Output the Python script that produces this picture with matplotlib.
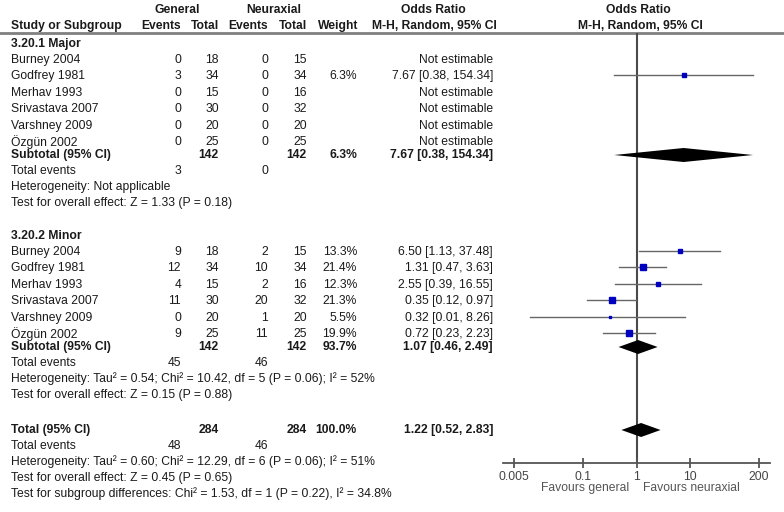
import matplotlib
matplotlib.use("Agg")
import matplotlib.pyplot as plt
import numpy as np

plt.rcParams['font.family'] = ['Liberation Sans', 'DejaVu Sans']

# ---------------- data ----------------
studies = ["Burney 2004", "Godfrey 1981", "Merhav 1993", "Srivastava 2007",
           "Varshney 2009", "Özgün 2002"]

major_gen_events = [0, 3, 0, 0, 0, 0]
major_gen_total = [18, 34, 15, 30, 20, 25]
major_neu_events = [0, 0, 0, 0, 0, 0]
major_neu_total = [15, 34, 16, 32, 20, 25]
major_weight = [None, 6.3, None, None, None, None]
major_or = [None, 7.67, None, None, None, None]
major_lo = [None, 0.38, None, None, None, None]
major_hi = [None, 154.34, None, None, None, None]

minor_gen_events = [9, 12, 4, 11, 0, 9]
minor_gen_total = [18, 34, 15, 30, 20, 25]
minor_neu_events = [2, 10, 2, 20, 1, 11]
minor_neu_total = [15, 34, 16, 32, 20, 25]
minor_weight = [13.3, 21.4, 12.3, 21.3, 5.5, 19.9]
minor_or = [6.50, 1.31, 2.55, 0.35, 0.32, 0.72]
minor_lo = [1.13, 0.47, 0.39, 0.12, 0.01, 0.23]
minor_hi = [37.48, 3.63, 16.55, 0.97, 8.26, 2.23]

# subtotal / total: [gen total, neu total, weight, OR, lo, hi, gen events, neu events]
major_sub = [142, 142, 6.3, 7.67, 0.38, 154.34, 3, 0]
minor_sub = [142, 142, 93.7, 1.07, 0.46, 2.49, 45, 46]
overall = [284, 284, 100.0, 1.22, 0.52, 2.83, 48, 46]

major_notes = ["Heterogeneity: Not applicable",
               "Test for overall effect: Z = 1.33 (P = 0.18)"]
minor_notes = ["Heterogeneity: Tau² = 0.54; Chi² = 10.42, df = 5 (P = 0.06); I² = 52%",
               "Test for overall effect: Z = 0.15 (P = 0.88)"]
overall_notes = ["Heterogeneity: Tau² = 0.60; Chi² = 12.29, df = 6 (P = 0.06); I² = 51%",
                 "Test for overall effect: Z = 0.45 (P = 0.65)",
                 "Test for subgroup differences: Chi² = 1.53, df = 1 (P = 0.22), I² = 34.8%"]

xticks = [0.005, 0.1, 1, 10, 200]
xtick_labels = ["0.005", "0.1", "1", "10", "200"]

# ---------------- layout ----------------
W, H = 784, 512
fig = plt.figure(figsize=(W / 100, H / 100), dpi=100)
ax = fig.add_axes([0, 0, 1, 1])
ax.set_xlim(0, W)
ax.set_ylim(H, 0)
ax.axis('off')

FS = 8.7
TC = '#1a1a1a'
X_NAME = 11
X_GE, X_GT, X_NE, X_NT, X_W, X_OR = 181, 219, 268, 307, 357, 493

# plot panel geometry (pixels)
PX_LO, PX_HI = 514, 759          # pixel position of 0.005 and 200
AX_L, AX_R = 503, 770
Y_RULE, Y_AXIS = 33, 463
dec = (PX_HI - PX_LO) / (np.log10(200) - np.log10(0.005))
def px2val(p):
    return 10 ** (np.log10(0.005) + (p - PX_LO) / dec)

fx = fig.add_axes([AX_L / W, (H - Y_AXIS) / H, (AX_R - AX_L) / W, (Y_AXIS - Y_RULE) / H])
fx.set_xscale('log')
fx.set_xlim(px2val(AX_L), px2val(AX_R))
fx.set_ylim(Y_AXIS, Y_RULE)
fx.patch.set_alpha(0)
for s in ['top', 'left', 'right']:
    fx.spines[s].set_visible(False)
fx.spines['bottom'].set_color('#555555')
fx.spines['bottom'].set_linewidth(1.3)
fx.set_yticks([])
fx.set_xticks(xticks)
fx.set_xticklabels(xtick_labels)
fx.xaxis.set_minor_locator(matplotlib.ticker.NullLocator())
fx.tick_params(axis='x', direction='inout', length=7, width=1.3, color='#555555',
               labelsize=FS, labelcolor='#444444', pad=2)
fx.axvline(1, color='#4a4a4a', lw=1.5, zorder=1)


def txt(x, y, s, ha='left', bold=False, color=TC, size=FS):
    ax.text(x, y, s, ha=ha, va='center', fontsize=size,
            fontweight='bold' if bold else 'normal', color=color)

def fmt_or(o, l, h):
    return f"{o:.2f} [{l:.2f}, {h:.2f}]"

def diamond(y, o, l, h, half=7):
    fx.fill([l, o, h, o], [y, y - half, y, y + half], color='black', zorder=3,
            clip_on=False, lw=0)

# headers
txt(177, 10, "General", ha='center', bold=True)
txt(274, 10, "Neuraxial", ha='center', bold=True)
txt(433, 10, "Odds Ratio", ha='center', bold=True)
txt(638, 10, "Odds Ratio", ha='center', bold=True)
txt(X_NAME, 26, "Study or Subgroup", bold=True)
txt(X_GE, 26, "Events", ha='right', bold=True)
txt(X_GT, 26, "Total", ha='right', bold=True)
txt(X_NE, 26, "Events", ha='right', bold=True)
txt(X_NT, 26, "Total", ha='right', bold=True)
txt(X_W + 1, 26, "Weight", ha='right', bold=True)
txt(X_OR + 4, 26, "M-H, Random, 95% CI", ha='right', bold=True)
txt(640, 26, "M-H, Random, 95% CI", ha='center', bold=True)
ax.plot([0, W], [Y_RULE, Y_RULE], color='#808080', lw=2)

ROW = 16.4

def group(title, y0, ge, gt, ne, nt, wt, ors, los, his, sub, notes):
    txt(X_NAME, y0, title, bold=True)
    y = y0 + 16
    for i, name in enumerate(studies):
        yi = y + i * ROW
        txt(X_NAME, yi, name)
        txt(X_GE, yi, str(ge[i]), ha='right')
        txt(X_GT, yi, str(gt[i]), ha='right')
        txt(X_NE, yi, str(ne[i]), ha='right')
        txt(X_NT, yi, str(nt[i]), ha='right')
        if wt[i] is None:
            txt(X_OR, yi, "Not estimable", ha='right')
        else:
            txt(X_W, yi, f"{wt[i]:.1f}%", ha='right')
            txt(X_OR, yi, fmt_or(ors[i], los[i], his[i]), ha='right')
            fx.plot([los[i], his[i]], [yi - 1, yi - 1], color='#666666', lw=1,
                    zorder=2, clip_on=False)
            side = 1.25 * np.sqrt(wt[i])
            fx.plot([ors[i]], [yi - 1], marker='s', ms=side * 0.72, color='#0000c0',
                    mec='#0000c0', zorder=4, clip_on=False)
    ys = y + 5 * ROW + 13
    txt(X_NAME, ys, "Subtotal (95% CI)", bold=True)
    txt(X_GT, ys, str(sub[0]), ha='right', bold=True)
    txt(X_NT, ys, str(sub[1]), ha='right', bold=True)
    txt(X_W, ys, f"{sub[2]:.1f}%", ha='right', bold=True)
    txt(X_OR, ys, fmt_or(sub[3], sub[4], sub[5]), ha='right', bold=True)
    diamond(ys, sub[3], sub[4], sub[5])
    yt = ys + 16
    txt(X_NAME, yt, "Total events")
    txt(X_GE, yt, str(sub[6]), ha='right')
    txt(X_NE, yt, str(sub[7]), ha='right')
    for k, n in enumerate(notes):
        txt(X_NAME, yt + 16 * (k + 1), n)

group("3.20.1 Major", 44, major_gen_events, major_gen_total, major_neu_events,
      major_neu_total, major_weight, major_or, major_lo, major_hi, major_sub, major_notes)
group("3.20.2 Minor", 236, minor_gen_events, minor_gen_total, minor_neu_events,
      minor_neu_total, minor_weight, minor_or, minor_lo, minor_hi, minor_sub, minor_notes)

yT = 430
txt(X_NAME, yT, "Total (95% CI)", bold=True)
txt(X_GT, yT, str(overall[0]), ha='right', bold=True)
txt(X_NT, yT, str(overall[1]), ha='right', bold=True)
txt(X_W, yT, f"{overall[2]:.1f}%", ha='right', bold=True)
txt(X_OR, yT, fmt_or(overall[3], overall[4], overall[5]), ha='right', bold=True)
diamond(yT, overall[3], overall[4], overall[5])
txt(X_NAME, yT + 16, "Total events")
txt(X_GE, yT + 16, str(overall[6]), ha='right')
txt(X_NE, yT + 16, str(overall[7]), ha='right')
for k, n in enumerate(overall_notes):
    txt(X_NAME, yT + 16 * (k + 2), n)

txt(629, 488, "Favours general", ha='right', color='#555555')
txt(643, 488, "Favours neuraxial", ha='left', color='#555555')

fig.savefig("out.png", dpi=100)
